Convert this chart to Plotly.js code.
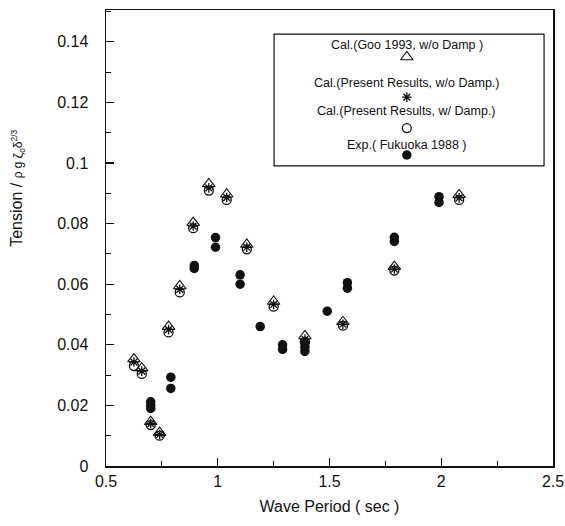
<!DOCTYPE html>
<html>
<head>
<meta charset="utf-8">
<script src="https://cdn.plot.ly/plotly-3.0.1.min.js"></script>
<style>html,body{margin:0;padding:0;background:#fff;}#chart{width:565px;height:526px;}</style>
</head>
<body>
<div id="chart"></div>
<script>
// Calculated series (Wave Period, sec)
const calcPeriod = [0.625, 0.66, 0.70, 0.74, 0.78, 0.83, 0.89, 0.96, 1.04, 1.13, 1.25, 1.39, 1.56, 1.79, 2.08];
const gooNoDamp = [0.0353, 0.0323, 0.0146, 0.0110, 0.0460, 0.0594, 0.0803, 0.0931, 0.0897, 0.0731, 0.0543, 0.0429, 0.0476, 0.0658, 0.0895];
const presentNoDamp = [0.0343, 0.0313, 0.0140, 0.0104, 0.0450, 0.0583, 0.0792, 0.0918, 0.0886, 0.0722, 0.0533, 0.0418, 0.0468, 0.0650, 0.0885];
const presentDamp = [0.0330, 0.0304, 0.0135, 0.0100, 0.0441, 0.0573, 0.0785, 0.0909, 0.0878, 0.0715, 0.0526, 0.0410, 0.0463, 0.0645, 0.0878];
// Experimental (Fukuoka 1988)
const expPeriod = [0.70, 0.70, 0.70, 0.79, 0.79, 0.895, 0.895, 0.99, 0.99, 1.10, 1.10, 1.19, 1.29, 1.29, 1.39, 1.39, 1.39, 1.49, 1.58, 1.58, 1.79, 1.79, 1.99, 1.99];
const expTension = [0.0212, 0.0200, 0.0190, 0.0293, 0.0256, 0.0662, 0.0652, 0.0754, 0.0722, 0.0631, 0.0600, 0.0460, 0.0400, 0.0385, 0.0405, 0.0392, 0.0378, 0.0511, 0.0605, 0.0587, 0.0755, 0.0741, 0.0889, 0.0870];
// Legend labels
const legendLabels = ["Cal.(Goo 1993, w/o Damp )", "Cal.(Present Results, w/o Damp.)", "Cal.(Present Results, w/ Damp.)", "Exp.( Fukuoka 1988 )"];
// Ticks
const yTickVals = [0, 0.02, 0.04, 0.06, 0.08, 0.1, 0.12, 0.14];
const yTickText = ["0", "0.02", "0.04", "0.06", "0.08", "0.1", "0.12", "0.14"];
const xTickVals = [0.5, 1, 1.5, 2, 2.5];
const xTickText = ["0.5", "1", "1.5", "2", "2.5"];

const FONT = "Liberation Sans, Arial, Helvetica, sans-serif";
const K = "#111";

const styles = [
  {symbol: "triangle-up-open", size: 11, line: {color: K, width: 1.1}, color: K},
  {symbol: "asterisk-open", size: 8, line: {color: K, width: 1.3}, color: K},
  {symbol: "circle-open", size: 9, line: {color: K, width: 1.3}, color: K},
  {symbol: "circle", size: 9.5, line: {color: K, width: 0}, color: K}
];

const traces = [
  {x: calcPeriod, y: gooNoDamp, mode: "markers", type: "scatter", name: legendLabels[0], marker: styles[0]},
  {x: calcPeriod, y: presentDamp, mode: "markers", type: "scatter", name: legendLabels[2], marker: styles[2]},
  {x: calcPeriod, y: presentNoDamp, mode: "markers", type: "scatter", name: legendLabels[1], marker: styles[1]},
  {x: expPeriod, y: expTension, mode: "markers", type: "scatter", name: legendLabels[3], marker: styles[3]}
];

// legend box drawn manually (text above symbol, stacked)
const legX = 0.673;
const legTextY = [0.923, 0.840, 0.779, 0.704];
const legSymY = [0.897, 0.809, 0.741, 0.682];
legendLabels.forEach((lab, i) => {
  traces.push({x: [legX], y: [legSymY[i]], xaxis: "x2", yaxis: "y2", mode: "markers", type: "scatter",
    marker: styles[i], hoverinfo: "skip", showlegend: false});
});

const annotations = legendLabels.map((lab, i) => ({
  xref: "paper", yref: "paper", x: legX, y: legTextY[i], text: lab, showarrow: false,
  xanchor: "center", yanchor: "middle", font: {family: FONT, size: 12.5, color: K}
}));
annotations.push({
  xref: "paper", yref: "paper", x: -0.197, y: 0.61, textangle: -90, showarrow: false,
  xanchor: "center", yanchor: "middle",
  text: "Tension / <span style=\"font-size:12px\">ρ g ζ<sub>o</sub>δ<sup>2/3</sup></span>",
  font: {family: FONT, size: 16, color: K}
});

const layout = {
  width: 565, height: 526,
  margin: {l: 106, r: 12, t: 10, b: 60},
  paper_bgcolor: "#fff", plot_bgcolor: "#fff",
  showlegend: false,
  font: {family: FONT, color: K, size: 16},
  xaxis: {
    range: [0.5, 2.5], tickvals: xTickVals, ticktext: xTickText,
    ticks: "inside", ticklen: 8, tickwidth: 1.2, tickcolor: K,
    minor: {tickvals: [0.75, 1.25, 1.75, 2.25], ticks: "inside", ticklen: 5, tickcolor: K, tickwidth: 1},
    showline: true, linecolor: K, linewidth: 1.5, mirror: true, showgrid: false, zeroline: false,
    tickfont: {family: FONT, size: 16, color: K},
    title: {text: "Wave Period ( sec )", font: {family: FONT, size: 16, color: K}, standoff: 12}
  },
  yaxis: {
    range: [0, 0.1505], tickvals: yTickVals, ticktext: yTickText,
    ticks: "inside", ticklen: 8, tickwidth: 1.2, tickcolor: K,
    minor: {dtick: 0.01, ticks: "inside", ticklen: 5, tickcolor: K, tickwidth: 1},
    showline: true, linecolor: K, linewidth: 1.5, mirror: true, showgrid: false, zeroline: false,
    tickfont: {family: FONT, size: 16, color: K}, ticklabelstandoff: 13
  },
  xaxis2: {range: [0, 1], overlaying: "x", visible: false, fixedrange: true},
  yaxis2: {range: [0, 1], overlaying: "y", visible: false, fixedrange: true},
  shapes: [{type: "rect", xref: "paper", yref: "paper", x0: 0.376, x1: 0.98, y0: 0.658, y1: 0.947,
    line: {color: K, width: 1.2}, fillcolor: "rgba(0,0,0,0)"}],
  annotations: annotations
};

Plotly.newPlot("chart", traces, layout, {staticPlot: true, displayModeBar: false});
</script>
</body>
</html>
